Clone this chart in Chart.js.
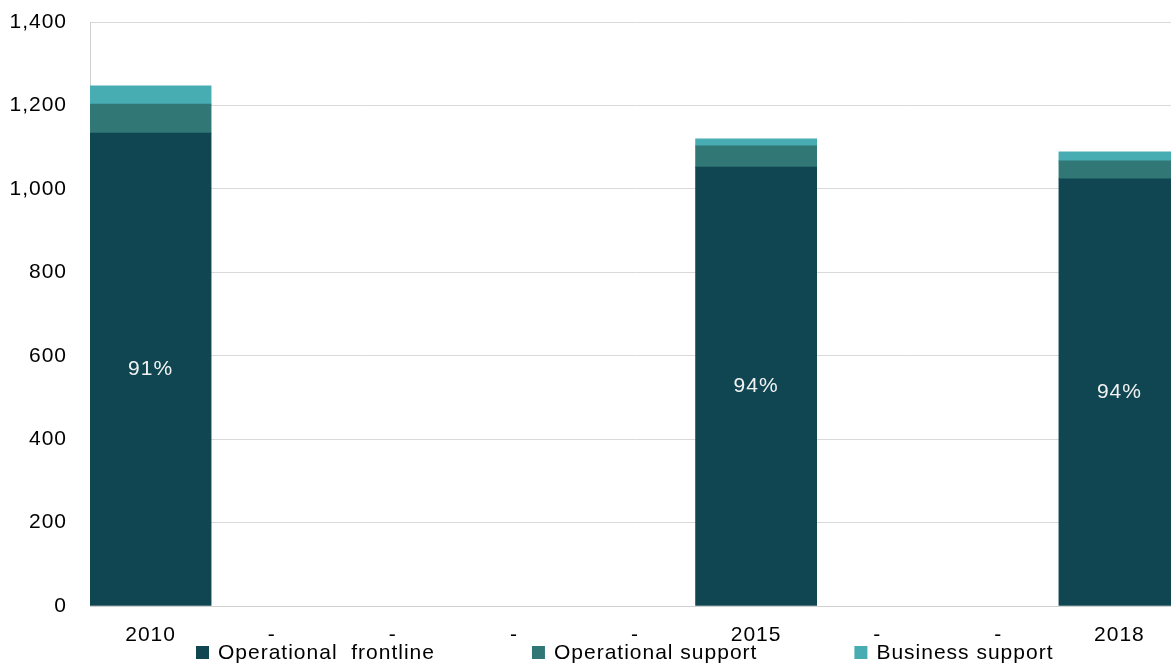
<!DOCTYPE html>
<html>
<head>
<meta charset="utf-8">
<script src="https://cdn.jsdelivr.net/npm/chart.js"></script>
<style>
  html, body { margin: 0; padding: 0; overflow: hidden; background: #fff; }
  #wrap { width: 1180px; height: 666px; position: relative; }
</style>
</head>
<body>
<div id="wrap"><canvas id="staffChart"></canvas></div>
<script>
const years = ['2010', '-', '-', '-', '-', '2015', '-', '-', '2018'];
const frontline = [1134, null, null, null, null, 1052, null, null, 1024];
const opSupport = [69, null, null, null, null, 51, null, null, 43];
const bizSupport = [44, null, null, null, null, 17, null, null, 22];
const yTicks = [0, 200, 400, 600, 800, 1000, 1200, 1400];

const font = 'Liberation Sans, Arial, sans-serif';

// the original text is drawn a little wide, so add letter spacing to the canvas
const wideText = {
  id: 'wideText',
  beforeUpdate(chart) { chart.ctx.letterSpacing = '1px'; },
  beforeDraw(chart) { chart.ctx.letterSpacing = '1px'; }
};

// share of frontline in the total, written inside the frontline bar
const shareLabels = {
  id: 'shareLabels',
  afterDatasetsDraw(chart) {
    const ctx = chart.ctx;
    const meta = chart.getDatasetMeta(0);
    ctx.save();
    ctx.font = '21px ' + font;
    ctx.fillStyle = '#f2f2f2';
    ctx.textAlign = 'center';
    ctx.textBaseline = 'middle';
    meta.data.forEach((bar, i) => {
      if (frontline[i] == null) return;
      const total = frontline[i] + opSupport[i] + bizSupport[i];
      const pct = Math.round(frontline[i] / total * 100) + '%';
      ctx.fillText(pct, bar.x, (bar.y + bar.base) / 2);
    });
    ctx.restore();
  }
};

// legend laid out like the Excel one: fixed start, fixed gap between items
const bottomLegend = {
  id: 'bottomLegend',
  afterDraw(chart) {
    const ctx = chart.ctx;
    ctx.save();
    ctx.font = '21px ' + font;
    ctx.textBaseline = 'middle';
    ctx.textAlign = 'left';
    let x = 196;
    const y = 653;
    chart.data.datasets.forEach(ds => {
      ctx.fillStyle = ds.backgroundColor;
      ctx.fillRect(x, y - 7, 13, 13);
      ctx.fillStyle = '#000';
      ctx.fillText(ds.label, x + 22, y);
      x += 22 + ctx.measureText(ds.label).width + 97;
    });
    ctx.restore();
  }
};

const ctx = document.getElementById('staffChart').getContext('2d');
const staffChart = new Chart(ctx, {
  type: 'bar',
  data: {
    labels: years,
    datasets: [
      { label: 'Operational  frontline', data: frontline, backgroundColor: '#0f4651' },
      { label: 'Operational support', data: opSupport, backgroundColor: '#307776' },
      { label: 'Business support', data: bizSupport, backgroundColor: '#48adb3' }
    ]
  },
  options: {
    responsive: true,
    maintainAspectRatio: false,
    animation: false,
    barPercentage: 1,
    categoryPercentage: 1,
    layout: { padding: { top: 22, left: 0, right: 0, bottom: 0 } },
    plugins: {
      legend: { display: false },
      tooltip: { enabled: false }
    },
    scales: {
      x: {
        stacked: true,
        grid: { display: false },
        border: { color: '#d0d0d0' },
        ticks: {
          font: { family: font, size: 21 },
          color: '#000',
          padding: 9,
          maxRotation: 0,
          autoSkip: false
        },
        afterFit(scale) { scale.height = 60; }
      },
      y: {
        stacked: true,
        min: 0,
        max: 1400,
        afterBuildTicks(scale) { scale.ticks = yTicks.map(v => ({ value: v })); },
        grid: { color: '#d9d9d9', drawTicks: false },
        border: { color: '#d0d0d0' },
        ticks: {
          font: { family: font, size: 21 },
          color: '#000',
          padding: 23
        },
        afterFit(scale) {
          scale.width = 90;
          // tick padding would otherwise push the plot top down
          scale.paddingTop = 0;
          scale.paddingBottom = 0;
        }
      }
    }
  },
  plugins: [wideText, shareLabels, bottomLegend]
});
</script>
</body>
</html>
